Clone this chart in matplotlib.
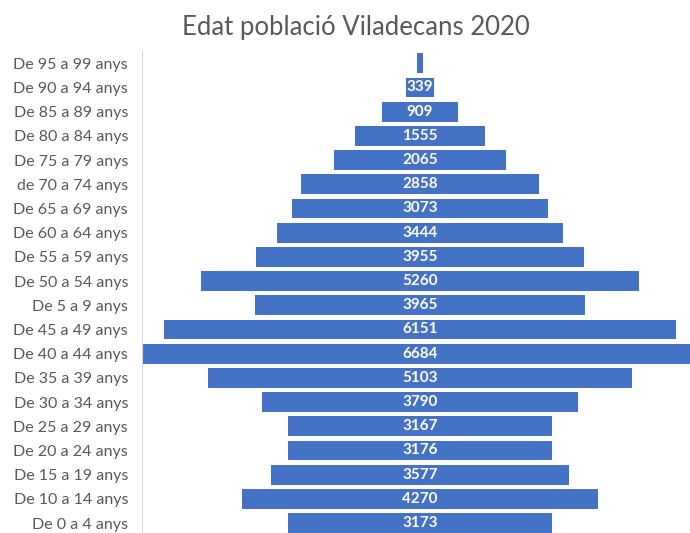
import matplotlib
matplotlib.use("Agg")
import matplotlib.pyplot as plt
import numpy as np

# DATA (bottom to top, as in the chart)
groups = [
    "De 0 a 4 anys", "De 10 a 14 anys", "De 15 a 19 anys", "De 20 a 24 anys",
    "De 25 a 29 anys", "De 30 a 34 anys", "De 35 a 39 anys", "De 40 a 44 anys",
    "De 45 a 49 anys", "De 5 a 9 anys", "De 50 a 54 anys", "De 55 a 59 anys",
    "De 60 a 64 anys", "De 65 a 69 anys", "de 70 a 74 anys", "De 75 a 79 anys",
    "De 80 a 84 anys", "De 85 a 89 anys", "De 90 a 94 anys", "De 95 a 99 anys",
]
people = [3173, 4270, 3577, 3176, 3167, 3790, 5103, 6684, 6151, 3965,
          5260, 3955, 3444, 3073, 2858, 2065, 1555, 909, 339, 63]

plt.rcParams['font.family'] = ['Lato', 'DejaVu Sans']

fig = plt.figure(figsize=(6.9, 5.33), dpi=100)
# the widest bar runs past the right edge of the picture
ax = fig.add_axes([142 / 690, -0.004, 556 / 690, 0.908])

y = np.arange(len(people))
vals = np.array(people)
ax.barh(y, vals, left=-vals / 2, height=0.82, color='#4472C4')

for yi, v in zip(y, vals):
    if v < 200:
        continue
    ax.text(0, yi, str(v), ha='center', va='center', color='white',
            fontsize=11, fontweight='bold')

half = vals.max() / 2
ax.set_xlim(-half, half)
ax.set_ylim(-0.5, len(people) - 0.5)
ax.set_yticks(y)
ax.set_yticklabels(groups, fontsize=11.5, color='#595959')
ax.set_xticks([])
ax.tick_params(axis='y', length=0, pad=10)
for s in ['top', 'right', 'bottom']:
    ax.spines[s].set_visible(False)
ax.spines['left'].set_color('#D9D9D9')

fig.text(356 / 690, 1 - 27 / 533, "Edat població Viladecans 2020", ha='center',
         va='center', fontsize=18.5, color='#595959')

fig.savefig("out.png", dpi=100)
